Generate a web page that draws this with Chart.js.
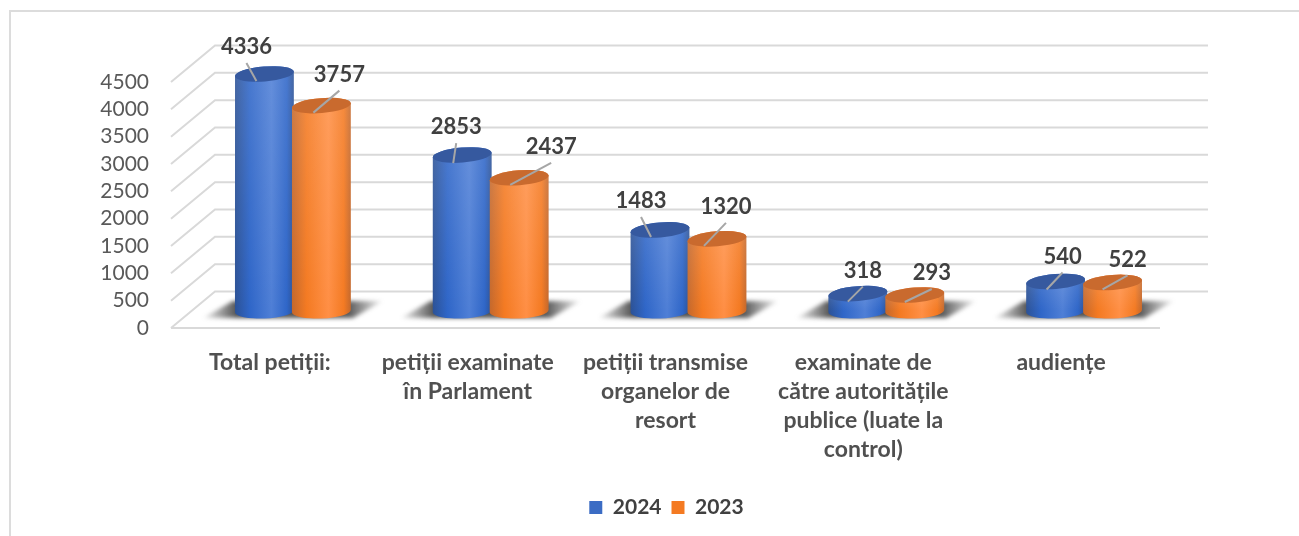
<!DOCTYPE html>
<html lang="ro">
<head>
<meta charset="utf-8">
<title>Petiții 2024 / 2023</title>
<style>
  html, body { margin: 0; background: #fff; }
  #wrap { position: relative; width: 1299px; height: 536px; }
</style>
<script src="https://cdn.jsdelivr.net/npm/chart.js@4"></script>
</head>
<body>
<div id="wrap"><canvas id="grafic"></canvas></div>
<script>
/* Cilindri 3D desenados a partir das barras do próprio Chart.js. */

const categorii = [
  "Total petiții:",
  ["petiții examinate", "în Parlament"],
  ["petiții transmise", "organelor de", "resort"],
  ["examinate de", "către autoritățile", "publice (luate la", "control)"],
  "audiențe",
];
const valori2024 = [4336, 2853, 1483, 318, 540];
const valori2023 = [3757, 2437, 1320, 293, 522];
const yMax = 4500;
const yPas = 500;

// deslocamento da etiqueta e ponta do fio, relativos ao topo do cilindro
const etiq2024 = [[-18, -28, -8, 7], [-6, -29, -9, 8], [-19, -30, -9, 7], [5, -24, -10, 8], [7, -26, -9, 8]];
const etiq2023 = [[18, -32, -8, 7], [32, -32, -9, 7], [9, -33, -13, 7], [17, -23, -10, 7], [15, -24, -10, 7]];

const FONTE = "Lato, 'Open Sans', sans-serif";
const ADANCIME_X = 44, ADANCIME_Y = -36.5;   // parede do fundo em relação à frente
const BARRA_X = 23, BARRA_Y = -17;
const RY = 7.5, INCL_TOPO = -0.08, INCL_BASE = -0.04;

const tons = [
  { borda: "#2c5296", meio: "#4f7fd6", fim: "#2f66c8", tampa: "#36599f" },
  { borda: "#c4682c", meio: "#ff8f45", fim: "#f47a22", tampa: "#c96a2e" },
];

function cilindro(ctx, bar, t) {
  const x = bar.x + BARRA_X;
  const topo = bar.y + BARRA_Y, base = bar.base + BARRA_Y;
  const rx = bar.width / 2 + 1;

  const corpo = ctx.createLinearGradient(x - rx, 0, x + rx, 0);
  corpo.addColorStop(0, t.borda);
  corpo.addColorStop(0.25, t.fim);
  corpo.addColorStop(0.62, t.meio);
  corpo.addColorStop(0.88, t.fim);
  corpo.addColorStop(1, t.borda);

  ctx.beginPath();
  ctx.ellipse(x, base, rx, RY, INCL_BASE, 0, Math.PI);
  ctx.ellipse(x, topo, rx, RY, INCL_TOPO, Math.PI, Math.PI * 2);
  ctx.closePath();
  ctx.fillStyle = corpo;
  ctx.fill();

  // clareia de cima para baixo
  const luz = ctx.createLinearGradient(0, topo, 0, base);
  luz.addColorStop(0, "rgba(255,255,255,0.12)");
  luz.addColorStop(1, "rgba(255,255,255,0)");
  ctx.fillStyle = luz;
  ctx.fill();

  ctx.beginPath();
  ctx.ellipse(x, topo, rx, RY, INCL_TOPO, 0, Math.PI * 2);
  ctx.fillStyle = t.tampa;
  ctx.fill();
}

function sombra(ctx, x, base) {
  // sombra no chão, atrás do par de cilindros
  const g = ctx.createLinearGradient(x - 92, 0, x + 92, 0);
  g.addColorStop(0, "rgba(70,70,70,0)");
  g.addColorStop(0.2, "rgba(70,70,70,0.95)");
  g.addColorStop(0.8, "rgba(70,70,70,0.9)");
  g.addColorStop(1, "rgba(70,70,70,0)");
  ctx.save();
  ctx.filter = "blur(2px)";
  ctx.beginPath();
  ctx.moveTo(x - 90, base + 7);
  ctx.lineTo(x + 60, base + 7);
  ctx.lineTo(x + 90, base - 10);
  ctx.lineTo(x - 60, base - 10);
  ctx.closePath();
  ctx.fillStyle = g;
  ctx.fill();
  ctx.restore();
}

const moldura = {
  id: "moldura",
  beforeDatasetsDraw(chart) {
    const { ctx, chartArea: a, scales: { y } } = chart;

    // caixa em volta do gráfico
    ctx.strokeStyle = "#dcdcdc";
    ctx.lineWidth = 2;
    ctx.beginPath();
    ctx.moveTo(10, 536);
    ctx.lineTo(10, 11);
    ctx.lineTo(1299, 11);
    ctx.stroke();

    // grade em perspectiva
    ctx.strokeStyle = "#d9d9d9";
    ctx.beginPath();
    for (let v = 0; v <= yMax; v += yPas) {
      const py = y.getPixelForValue(v);
      ctx.moveTo(a.left, py);
      ctx.lineTo(a.left + ADANCIME_X, py + ADANCIME_Y);
      ctx.lineTo(a.right + ADANCIME_X + 4, py + ADANCIME_Y);
    }
    ctx.moveTo(a.left, a.bottom);
    ctx.lineTo(a.right, a.bottom);
    ctx.stroke();

    const m0 = chart.getDatasetMeta(0).data, m1 = chart.getDatasetMeta(1).data;
    m0.forEach((b, i) => {
      sombra(ctx, (b.x + m1[i].x) / 2 + BARRA_X, b.base + BARRA_Y);
    });
    m0.forEach(b => cilindro(ctx, b, tons[0]));
    m1.forEach(b => cilindro(ctx, b, tons[1]));
    return false;
  },
  afterDraw(chart) {
    const { ctx } = chart;
    [etiq2024, etiq2023].forEach((etiq, d) => {
      chart.getDatasetMeta(d).data.forEach((b, i) => {
        const tx = b.x + BARRA_X, ty = b.y + BARRA_Y;
        const [ex, ey, fx, fy] = etiq[i];
        ctx.strokeStyle = "#a6a6a6";
        ctx.lineWidth = 2;
        ctx.beginPath();
        ctx.moveTo(tx + ex, ty + ey + 17);
        ctx.lineTo(tx + fx, ty + fy);
        ctx.stroke();
        ctx.fillStyle = "#404040";
        ctx.font = "bold 22px " + FONTE;
        ctx.textAlign = "center";
        ctx.textBaseline = "middle";
        ctx.fillText(chart.data.datasets[d].data[i], tx + ex, ty + ey + 1);
      });
    });
  },
  afterLayout(chart) {
    // legenda centrada um pouco à direita do meio da tela
    chart.legend.left = 34;
    chart.legend.right = 1299;
  },
};

new Chart(document.getElementById("grafic"), {
  type: "bar",
  data: {
    labels: categorii,
    datasets: [
      { label: "2024", data: valori2024, backgroundColor: "#3b6cc4" },
      { label: "2023", data: valori2023, backgroundColor: "#f47a22" },
    ],
  },
  options: {
    responsive: true,
    maintainAspectRatio: false,
    animation: false,
    layout: { padding: { top: 82, right: 139, bottom: 8, left: 0 } },
    datasets: { bar: { categoryPercentage: 0.576, barPercentage: 1 } },
    scales: {
      x: {
        grid: { display: false },
        border: { display: false },
        afterFit(s) { s.height = 159; },
        ticks: {
          autoSkip: false, maxRotation: 0, padding: 12,
          color: "#505050",
          font: { family: FONTE, size: 23, weight: "bold", lineHeight: 29 / 23 },
        },
      },
      y: {
        min: 0, max: yMax,
        grid: { display: false },
        border: { display: false },
        afterFit(s) { s.width = 171; },
        ticks: {
          stepSize: yPas, padding: 14, autoSkip: false,
          color: "#595959",
          font: { family: FONTE, size: 21 },
          callback: v => String(v),
        },
      },
    },
    plugins: {
      tooltip: { enabled: false },
      legend: {
        position: "bottom",
        labels: {
          boxWidth: 13, boxHeight: 13, padding: 10,
          color: "#404040",
          font: { family: FONTE, size: 21, weight: "bold" },
        },
      },
    },
  },
  plugins: [moldura],
});
</script>
</body>
</html>
